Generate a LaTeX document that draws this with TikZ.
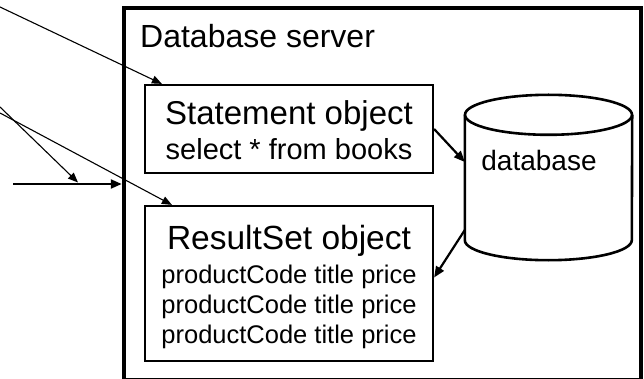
\documentclass[tikz,border=0pt]{standalone}
\usepackage{fontspec}
\setmainfont{Liberation Sans}
\usetikzlibrary{arrows.meta,calc}
\begin{document}
\begin{tikzpicture}[x=1pt,y=-1pt,
  objbox/.style={draw, line width=2.2pt, inner sep=0pt},
  thinarrow/.style={line width=1.1pt, -{Triangle[length=10pt,width=8pt]}},
  boldarrow/.style={line width=2.2pt, -{Triangle[length=11pt,width=9pt]}},
  txt/.style={anchor=base, inner sep=0pt}]
\useasboundingbox (0,0) rectangle (644,379);

% server frame (its lower edge runs along the bottom border) and the two objects inside it
\node[draw, line width=3.5pt, inner sep=0pt, minimum width=517pt, minimum height=372pt] (srv) at (382.5,194) {};
\node[objbox, minimum width=288pt, minimum height=88pt] (stmt) at (289,129) {};
\node[objbox, minimum width=288pt, minimum height=155pt] (rs) at (289,283.5) {};

% texts
\node[txt, anchor=base west, font=\fontsize{32}{36}\selectfont] (srvlabel) at (140,48) {Database server};
\node[txt, font=\fontsize{33}{36}\selectfont] (stmtname) at (289,125) {Statement object};
\node[txt, font=\fontsize{29}{32}\selectfont] (stmtsql) at (289,160) {select * from books};
\node[txt, font=\fontsize{33.5}{36}\selectfont] (rsname) at (289,249) {ResultSet object};
\node[txt, font=\fontsize{25.5}{28}\selectfont] (row1) at (289,283) {productCode title price};
\node[txt, font=\fontsize{25.5}{28}\selectfont] (row2) at (289,313) {productCode title price};
\node[txt, font=\fontsize{25.5}{28}\selectfont] (row3) at (289,343) {productCode title price};

% database cylinder
\node[inner sep=0pt, minimum width=167pt, minimum height=165pt] (db) at (548.5,177.5) {};
\draw[line width=2.6pt] ($(db.north west)+(0,20)$) -- ($(db.south west)+(0,-20)$)
  arc[start angle=180, end angle=0, x radius=83.5, y radius=20]
  -- ($(db.north east)+(0,20)$);
\draw[line width=2.6pt] ($(db.north)+(0,20)$) ellipse[x radius=83.5, y radius=20];
\node[txt, font=\fontsize{28}{32}\selectfont] (dblabel) at (539,171) {database};

% incoming lines from the left
\coordinate (in1) at (0,7);
\coordinate (in2) at (0,107);
\coordinate (in3) at (0,113);
\coordinate (in4) at (13,184);
\coordinate (hit) at (78,182.5);
\draw[thinarrow] (in1) -- ($(stmt.north west)+(18,0)$);
\draw[thinarrow] (in3) -- ($(rs.north west)+(28,0)$);
\draw[thinarrow] (in2) -- (hit);
\draw[boldarrow] (in4) -- ($(srv.west |- in4)+(-0.5,0)$);

% traffic between the objects and the database
\draw[boldarrow] (stmt.east) -- ($(db.west)+(0,-15.5)$);
\draw[boldarrow] ($(db.west)+(0,52.5)$) -- ($(rs.east)+(0,-6)$);
\end{tikzpicture}
\end{document}
